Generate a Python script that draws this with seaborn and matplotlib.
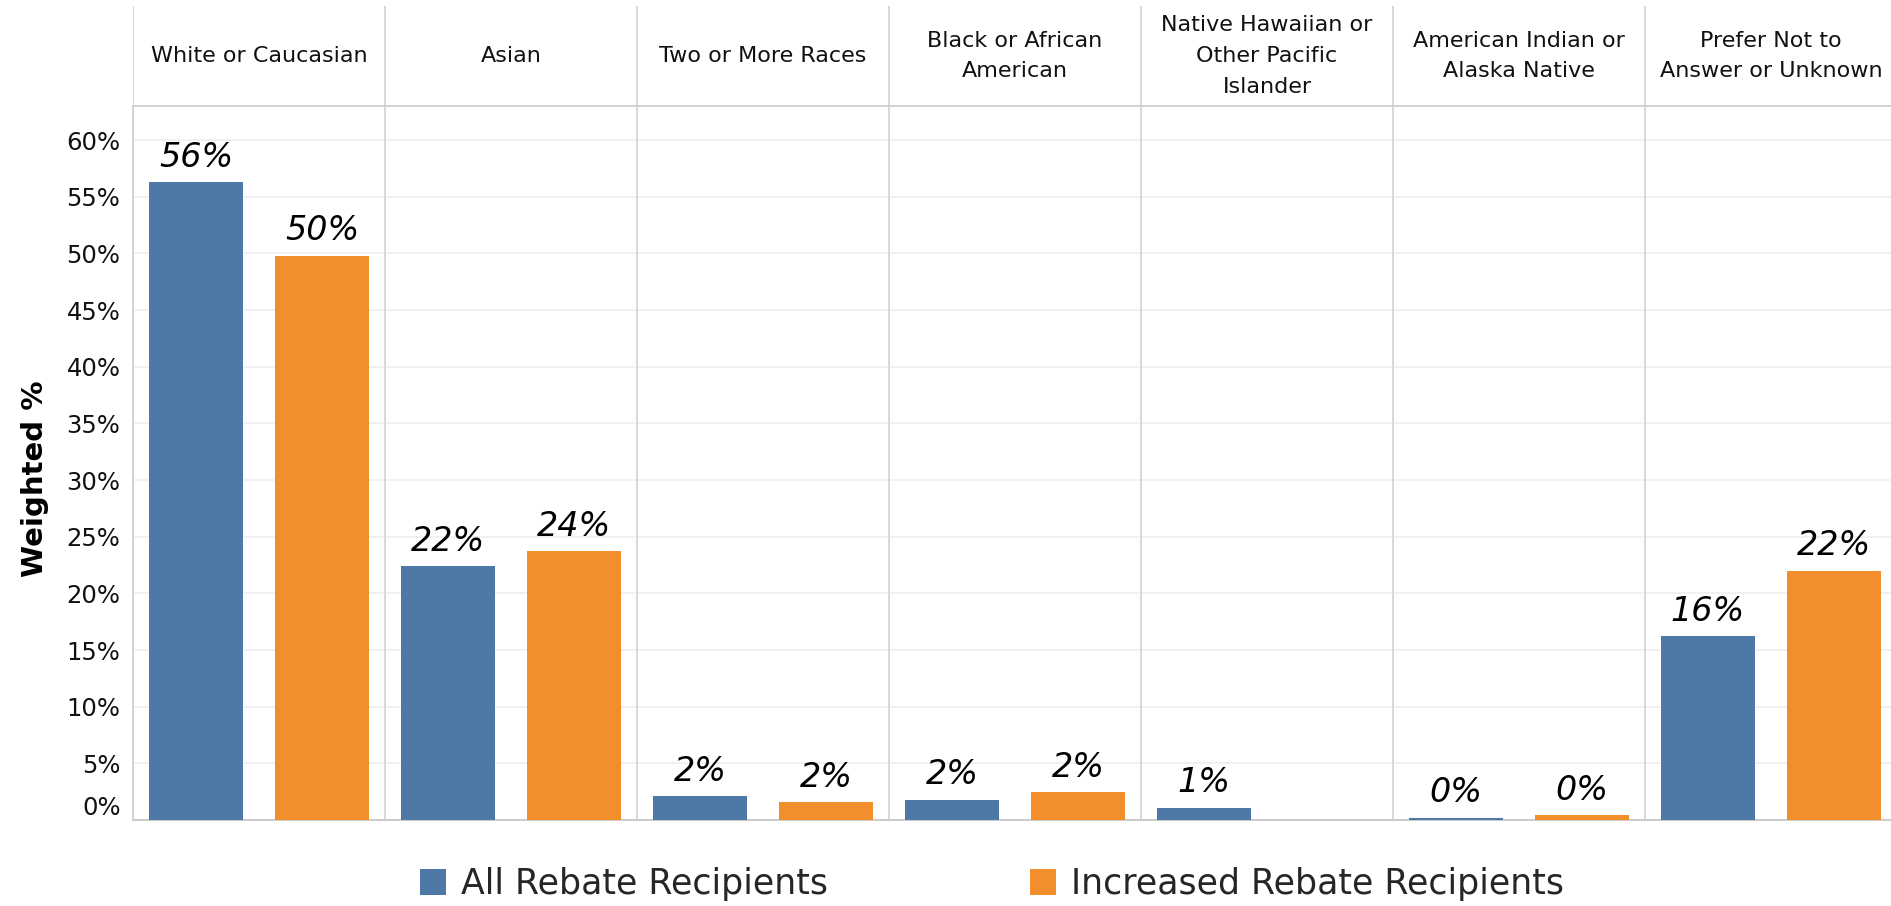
import matplotlib
matplotlib.use("Agg")
import matplotlib.pyplot as plt
import seaborn as sns
import pandas as pd
import numpy as np

# ---------------- data ----------------
categories = [
    "White or Caucasian",
    "Asian",
    "Two or More Races",
    "Black or African\nAmerican",
    "Native Hawaiian or\nOther Pacific\nIslander",
    "American Indian or\nAlaska Native",
    "Prefer Not to\nAnswer or Unknown",
]
series_names = ["All Rebate Recipients", "Increased Rebate Recipients"]
all_values = [56.3, 22.4, 2.1, 1.8, 1.1, 0.2, 16.2]
increased_values = [49.8, 23.7, 1.6, 2.45, np.nan, 0.45, 22.0]
y_ticks = [0, 5, 10, 15, 20, 25, 30, 35, 40, 45, 50, 55, 60]
y_tick_labels = [f"{t}%" for t in y_ticks]

colors = ["#4e79a7", "#f28e2b"]

df = pd.DataFrame({
    "race": categories * 2,
    "group": [series_names[0]] * len(categories) + [series_names[1]] * len(categories),
    "pct": all_values + increased_values,
}).dropna()

# ---------------- style ----------------
sns.set_style("white")
plt.rcParams["font.family"] = ["DejaVu Sans"]

W, H = 1891, 906
fig = plt.figure(figsize=(W / 100, H / 100), dpi=100)

left_px, right_px = 133, 1891
base_px, top_px, head_top_px = 820, 106, 6
col_w_px = 252.0

ax = fig.add_axes([left_px / W, (H - base_px) / H, (right_px - left_px) / W, (base_px - top_px) / H])
hax = fig.add_axes([left_px / W, (H - top_px) / H, (right_px - left_px) / W, (top_px - head_top_px) / H])

sns.barplot(
    data=df, x="race", y="pct", hue="group",
    order=categories, hue_order=series_names,
    palette=colors, saturation=1, width=1.0, gap=0.25,
    ax=ax, linewidth=0, zorder=3,
)

xmax = -0.5 + (right_px - left_px) / col_w_px
ax.set_xlim(-0.5, xmax)
ax.set_ylim(0, 63)

# bar labels
for cont in ax.containers:
    ax.bar_label(cont, fmt="{:.0f}%", padding=6, fontsize=24, fontstyle="italic", color="black")

# axes styling
ax.set_yticks(y_ticks)
ax.set_yticklabels(y_tick_labels, fontsize=17.5, color="#111111")
lbls = ax.get_yticklabels()
lbls[0].set_verticalalignment("bottom")
ax.tick_params(axis="y", length=0, pad=9)
ax.set_xticks([])
ax.set_xlabel("")
ax.set_ylabel("Weighted %", fontsize=21, fontweight="bold", color="black")
ax.yaxis.set_label_coords(-0.048, 0.478)
ax.yaxis.grid(True, color="#efefef", lw=1.2, zorder=0)
ax.xaxis.grid(False)
ax.set_axisbelow(True)
for s in ["top", "right"]:
    ax.spines[s].set_visible(False)
ax.spines["left"].set_color("#d0d0d0")
ax.spines["bottom"].set_color("#c8c8c8")
ax.spines["left"].set_linewidth(1.3)
ax.spines["bottom"].set_linewidth(1.3)

for i in range(1, len(categories)):
    ax.axvline(i - 0.5, color="#d6d6d6", lw=1.3, zorder=1)

# legend
handles, labels = ax.get_legend_handles_labels()
if ax.get_legend() is not None:
    ax.get_legend().remove()
fig.legend(
    handles, labels, loc="center", bbox_to_anchor=(992 / W, 1 - 884 / H),
    ncol=2, frameon=False, fontsize=25, handlelength=0.75, handleheight=0.75,
    handletextpad=0.45, columnspacing=5.8,
)

# header band
hax.set_xlim(-0.5, xmax)
hax.set_ylim(0, 1)
hax.axis("off")
for i, cat in enumerate(categories):
    hax.text(i, 0.5, cat, ha="center", va="center", fontsize=16, color="#111111", linespacing=1.68)
for i in range(len(categories)):
    hax.axvline(i - 0.5, color="#d6d6d6", lw=1.3)
hax.axhline(0, color="#d0d0d0", lw=1.3, clip_on=False)

fig.savefig("out.png", dpi=100)
